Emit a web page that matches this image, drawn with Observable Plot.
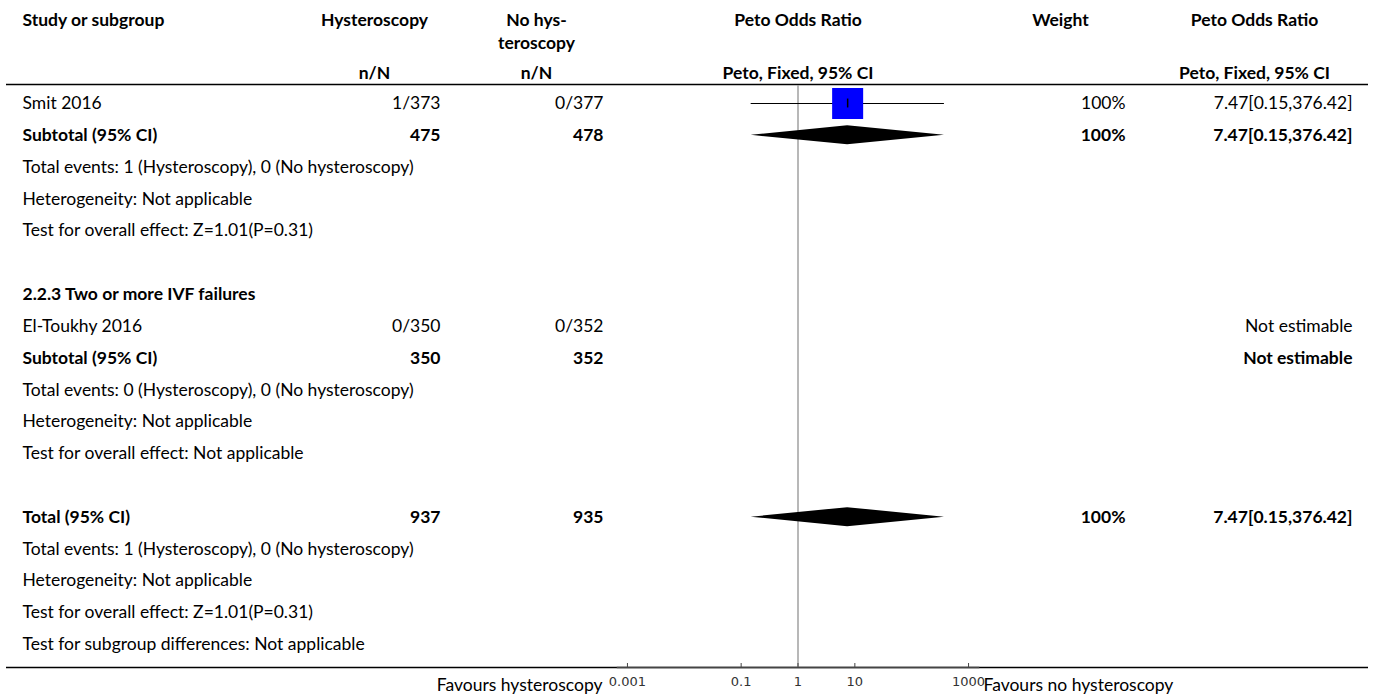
<!DOCTYPE html>
<html><head><meta charset="utf-8">
<script src="https://cdn.jsdelivr.net/npm/d3@7"></script>
<script src="https://cdn.jsdelivr.net/npm/@observablehq/plot@0.6"></script>
<style>
body{margin:0;background:#fff;}
#chart{position:relative;width:1375px;height:697px;overflow:hidden;}
#chart svg{position:absolute;left:0;top:0;}
</style></head><body><div id="chart"></div>
<script>
// ---- data ----
const studyOrSubgroup = [
  "Smit 2016", "Subtotal (95% CI)",
  "Total events: 1 (Hysteroscopy), 0 (No hysteroscopy)",
  "Heterogeneity: Not applicable",
  "Test for overall effect: Z=1.01(P=0.31)", "",
  "2.2.3 Two or more IVF failures", "El-Toukhy 2016", "Subtotal (95% CI)",
  "Total events: 0 (Hysteroscopy), 0 (No hysteroscopy)",
  "Heterogeneity: Not applicable",
  "Test for overall effect: Not applicable", "",
  "Total (95% CI)",
  "Total events: 1 (Hysteroscopy), 0 (No hysteroscopy)",
  "Heterogeneity: Not applicable",
  "Test for overall effect: Z=1.01(P=0.31)",
  "Test for subgroup differences: Not applicable"
];
const rowKind = ["study","subtotal","note","note","note","blank","heading","study","subtotal","note","note","note","blank","total","note","note","note","note"];
const hysteroscopyNN   = ["1/373","475","","","","","","0/350","350","","","","","937","","","",""];
const noHysteroscopyNN = ["0/377","478","","","","","","0/352","352","","","","","935","","","",""];
const weightText = ["100%","100%","","","","","","","","","","","","100%","","","",""];
const effectText = ["7.47[0.15,376.42]","7.47[0.15,376.42]","","","","","","Not estimable","Not estimable","","","","","7.47[0.15,376.42]","","","",""];
const oddsRatio = [7.47, 7.47, null,null,null,null,null,null,null,null,null,null,null, 7.47, null,null,null,null];
const ciLower   = [0.15, 0.15, null,null,null,null,null,null,null,null,null,null,null, 0.15, null,null,null,null];
const ciUpper   = [376.42, 376.42, null,null,null,null,null,null,null,null,null,null,null, 376.42, null,null,null,null];
const xTicks = [0.001, 0.1, 1, 10, 1000];
const favours = ["Favours hysteroscopy", "Favours no hysteroscopy"];
const headers = {
  study: ["Study or subgroup"],
  exp: ["Hysteroscopy", "", "n/N"],
  ctrl: ["No hys-", "teroscopy", "n/N"],
  plot: ["Peto Odds Ratio", "", "Peto, Fixed, 95% CI"],
  weight: ["Weight"],
  ci: ["Peto Odds Ratio", "", "Peto, Fixed, 95% CI"]
};

// ---- layout ----
const W = 1375, H = 697;
const FONT = "Lato";
const FS = 17.5;
const yScale = {domain: [0, 17], range: [103, 644], axis: null};
const headerLineRow = [-2.61, -1.89, -0.95];
const colAnchor = {label: 22, exp: 440, ctrl: 603, weight: 1125, effect: 1352};
const colHeaderCenter = {study: 22, exp: 374, ctrl: 536, weight: 1060, ci: 1254};

const rows = studyOrSubgroup.map((label, i) => ({
  row: i, label, kind: rowKind[i],
  exp: hysteroscopyNN[i], ctrl: noHysteroscopyNN[i],
  weight: weightText[i], effect: effectText[i],
  or: oddsRatio[i], lo: ciLower[i], hi: ciUpper[i]
}));
const isBold = d => d.kind === "subtotal" || d.kind === "total" || d.kind === "heading";
const studies = rows.filter(d => d.kind === "study" && d.or != null);
const pooled = rows.filter(d => (d.kind === "subtotal" || d.kind === "total") && d.or != null);
const diamondHalf = 0.3;
const diamondPts = pooled.flatMap(d => [
  {row: d.row, x: d.lo, y1: d.row, y2: d.row},
  {row: d.row, x: d.or, y1: d.row - diamondHalf, y2: d.row + diamondHalf},
  {row: d.row, x: d.hi, y1: d.row, y2: d.row}
]);
const headerItems = [];
for (const [col, lines] of Object.entries(headers)) {
  lines.forEach((t, j) => { if (t) headerItems.push({col, line: j, text: t}); });
}

// ---- table plot ----
const textMarks = [];
const addCol = (key, anchor, bold) => {
  const data = rows.filter(d => d[key] && (bold ? isBold(d) : !isBold(d)));
  textMarks.push(Plot.text(data, {
    x: () => colAnchor[key], y: "row", text: key,
    textAnchor: anchor, fontWeight: bold ? "bold" : "normal", fontSize: FS, fontFamily: FONT, fill: "#000"
  }));
};
for (const b of [false, true]) {
  addCol("label", "start", b);
  addCol("exp", "end", b);
  addCol("ctrl", "end", b);
  addCol("weight", "end", b);
  addCol("effect", "end", b);
}
const headerText = (items, anchor) => Plot.text(items, {
  x: h => colHeaderCenter[h.col], y: h => headerLineRow[h.line], text: "text",
  textAnchor: anchor, fontWeight: "bold", fontSize: FS, fontFamily: FONT, fill: "#000"
});
const table = Plot.plot({
  width: W, height: H, margin: 0,
  style: {fontFamily: FONT, fontSize: FS + "px", background: "transparent"},
  x: {type: "identity", axis: null},
  y: yScale,
  marks: [
    Plot.ruleY([-0.6, 17.72], {insetLeft: 6, insetRight: 7, stroke: "#000", strokeWidth: 1.5}),
    headerText(headerItems.filter(h => h.col === "study"), "start"),
    headerText(headerItems.filter(h => h.col !== "study" && h.col !== "plot"), "middle"),
    ...textMarks
  ]
});

// ---- forest plot ----
const forest = Plot.plot({
  width: W, height: H,
  marginLeft: 617, marginRight: W - 978, marginTop: 85, marginBottom: 30,
  style: {fontFamily: FONT, fontSize: FS + "px", background: "transparent", overflow: "visible"},
  x: {type: "log", domain: [Math.pow(10, -3.175), Math.pow(10, 3.175)]},
  y: yScale,
  marks: [
    Plot.ruleX([1], {stroke: "#a0a0a0", strokeWidth: 1.5}),
    Plot.frame({anchor: "bottom", stroke: "#444", strokeWidth: 1.5}),
    Plot.ruleX(xTicks, {x: d => d, insetTop: 582 - 4, stroke: "#444", strokeWidth: 1}),
    Plot.axisX({ticks: xTicks, tickFormat: d => String(d), tickSize: 0, tickPadding: 9,
      fontFamily: "DejaVu Sans", fontSize: 13, fill: "#333"}),
    Plot.ruleY(studies, {y: "row", x1: "lo", x2: "hi", stroke: "#000", strokeWidth: 1}),
    Plot.dot(studies, {x: "or", y: "row", symbol: "square", r: 17.5, fill: "#0000ff", stroke: null}),
    Plot.ruleX(studies, {x: "or", y1: d => d.row - 0.14, y2: d => d.row + 0.14, stroke: "#000", strokeWidth: 1.5}),
    Plot.areaY(diamondPts, {x: "x", y1: "y1", y2: "y2", z: "row", fill: "#000"}),
    Plot.text([favours[0]], {frameAnchor: "bottom-left", dx: -15, dy: 23, textAnchor: "end",
      fontSize: FS, fontFamily: FONT, fill: "#000"}),
    Plot.text([favours[1]], {frameAnchor: "bottom-right", dx: 5, dy: 23, textAnchor: "start",
      fontSize: FS, fontFamily: FONT, fill: "#000"}),
    Plot.text(headerItems.filter(h => h.col === "plot"), {x: () => 1, y: h => headerLineRow[h.line], text: "text",
      fontWeight: "bold", fontSize: FS, fontFamily: FONT, fill: "#000"})
  ]
});

const chart = document.getElementById("chart");
chart.appendChild(table);
chart.appendChild(forest);
</script></body></html>
